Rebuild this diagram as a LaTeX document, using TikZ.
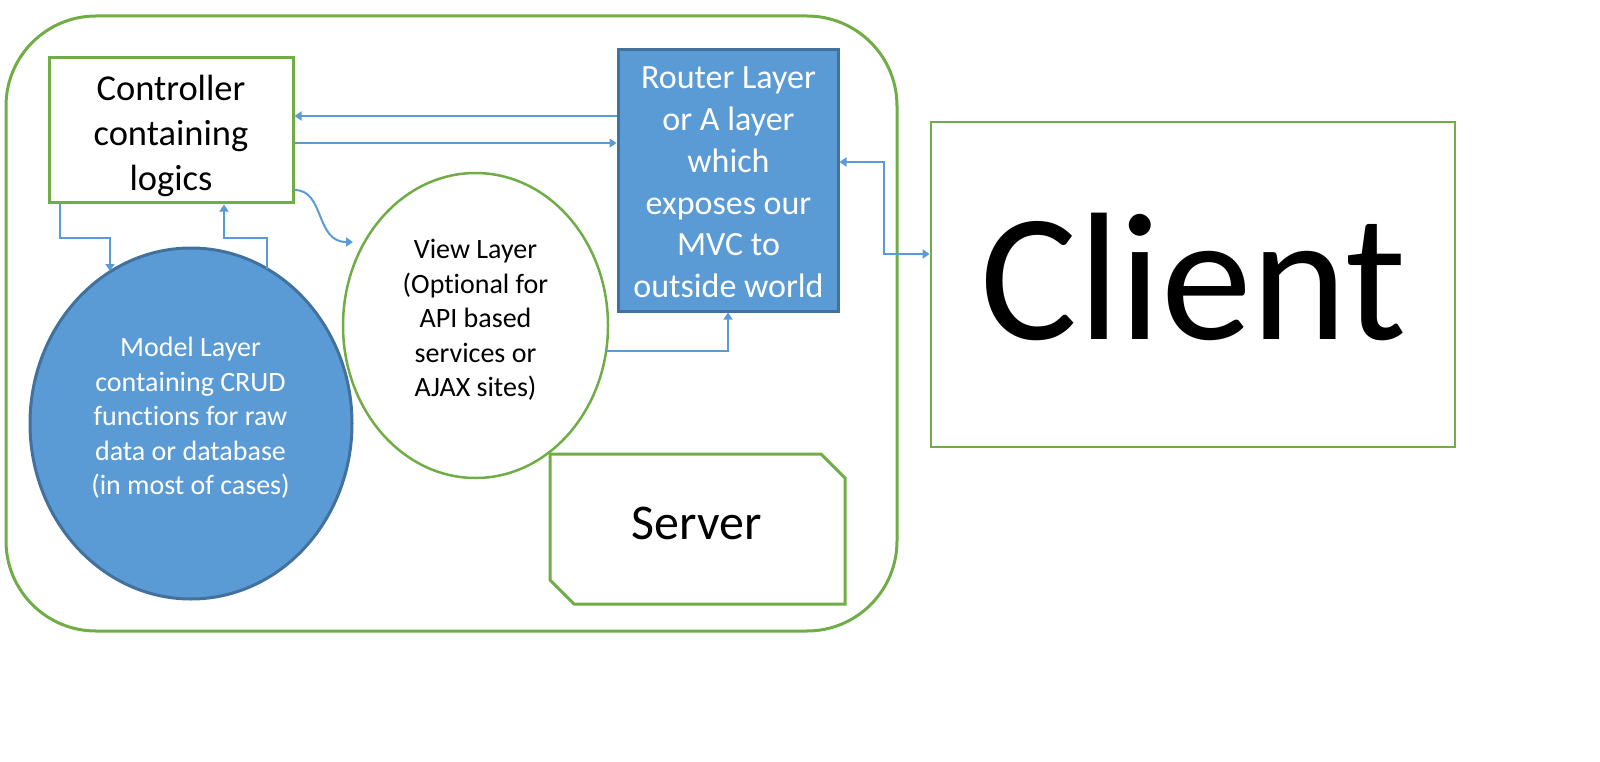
\documentclass[tikz,border=0pt]{standalone}
\usepackage{fontspec}
\setmainfont{Carlito}[Ligatures=NoCommon]
\usetikzlibrary{arrows.meta,shapes.geometric}
\definecolor{lgreen}{HTML}{70AD47}
\definecolor{lblue}{HTML}{5B9BD5}
\definecolor{dblue}{HTML}{41719C}
\tikzset{
  gbox/.style={draw=lgreen, line width=3pt, fill=white, inner sep=0pt},
  bshape/.style={draw=dblue, line width=3pt, fill=lblue, inner sep=0pt},
  arr/.style={draw=lblue, line width=2pt, -{Triangle[length=7pt,width=9pt]}},
  darr/.style={draw=lblue, line width=2pt, {Triangle[length=7pt,width=9pt]}-{Triangle[length=7pt,width=9pt]}},
  txt/.style={inner sep=0pt, align=center}
}
\begin{document}
\begin{tikzpicture}[x=1pt,y=-1pt]
\useasboundingbox (0,0) rectangle (1600,762);
% outer server frame
\draw[draw=lgreen, line width=3pt, rounded corners=90pt] (6,16) rectangle (897,631);
% shapes
\node[gbox, minimum width=244pt, minimum height=145pt] (ctrl) at (171,130.5) {};
\node[bshape, minimum width=220pt, minimum height=261pt] (router) at (728,180.5) {};
\node[bshape, ellipse, minimum width=322pt, minimum height=351pt] (model) at (191,423.5) {};
\node[gbox, line width=2.5pt, ellipse, minimum width=265pt, minimum height=305pt] (view) at (475.5,325.5) {};
\draw[draw=lgreen, line width=3pt, fill=white] (550,454) -- (821,454) -- (845,478) -- (845,604) -- (574,604) -- (550,580) -- cycle;
\node[gbox, line width=2.7pt, minimum width=524pt, minimum height=325pt] (client) at (1193,284.5) {};
% texts
\node[txt, font=\fontsize{36.5}{45}\selectfont] (ctrlt) at (171,136) {Controller\\containing\\logics};
\node[txt, text=white, font=\fontsize{34}{41.8}\selectfont] (routert) at (728.5,182.5) {Router Layer\\or A layer\\which\\exposes our\\MVC to\\outside world};
\node[txt, font=\fontsize{28}{34.5}\selectfont] (viewt) at (475.5,320) {View Layer\\(Optional for\\API based\\services or\\AJAX sites)};
\node[txt, text=white, font=\fontsize{28}{34.5}\selectfont] (modelt) at (190.5,418) {Model Layer\\containing CRUD\\functions for raw\\data or database\\(in most of cases)};
\node[txt, anchor=base, font=\fontsize{50}{60}\selectfont] (server) at (697,539) {Server};
\node[txt, anchor=base, font=\fontsize{182}{200}\selectfont] (clientt) at (1194,339) {Client};
% connectors
\draw[arr] (router.west |- 0,116) -- (ctrl.east |- 0,116);
\draw[arr] (ctrl.east |- 0,143) -- (router.west |- 0,143);
\draw[arr] (ctrl.south -| 60,0) |- (110,237.7) -- (110,271);
\draw[arr] (267,269) |- (224,237.7) -- (ctrl.south -| 224,0);
\draw[arr] (ctrl.east |- 0,190) .. controls (325,190) and (315,242) .. (353,242);
\draw[arr] (606,351) -| (router.south);
\draw[darr] (router.east |- 0,162) -| (884,254) -- (client.west |- 0,254);
\end{tikzpicture}
\end{document}
